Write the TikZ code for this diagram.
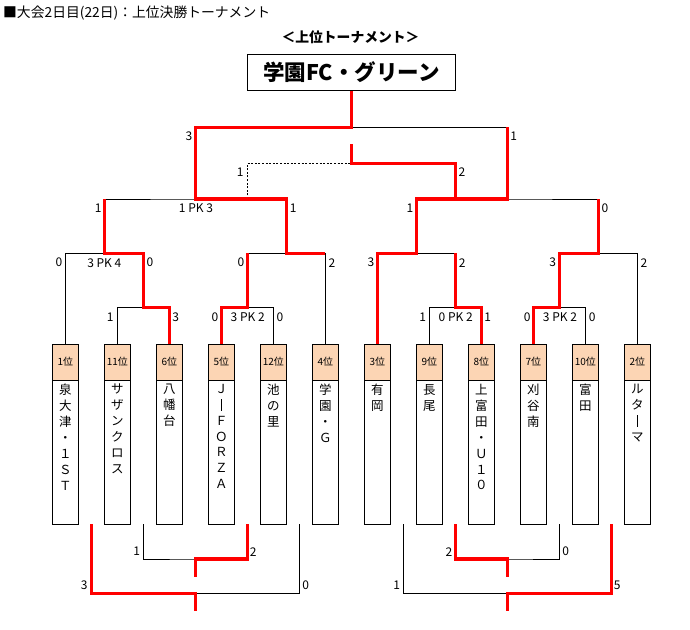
\documentclass[tikz,border=0pt]{standalone}
\usepackage{fontspec}
\newfontfamily\jp{Noto Sans CJK JP}
\setmainfont{Noto Sans CJK JP}
\definecolor{peach}{HTML}{FCD5B4}
\definecolor{winred}{HTML}{FF0000}
\newcommand{\vbar}{\raisebox{-1.5pt}{\rule{0.9pt}{12pt}}}
\tikzset{
  line/.style={draw=black,line width=1pt},
  win/.style={draw=winred,line width=3.2pt},
  thirdline/.style={draw=black,line width=1pt,dash pattern=on 2pt off 1.6pt},
  team/.style={draw=black,line width=1pt,fill=white,minimum width=26pt,minimum height=179.7pt,inner sep=0pt,outer sep=0pt},
  hdr/.style={draw=black,line width=1pt,fill=peach,minimum width=26pt,minimum height=35.7pt,inner sep=0pt,outer sep=0pt,anchor=north,font=\jp\fontsize{10}{12}\selectfont},
  nm/.style={anchor=north,inner sep=0pt,align=center,font=\jp\fontsize{12.5}{15.9}\selectfont},
  sc/.style={inner sep=0pt,font=\jp\fontsize{12}{14}\selectfont},
}
\begin{document}
\begin{tikzpicture}[x=1pt,y=-1pt]
\useasboundingbox[fill=white] (0,0) rectangle (690,629);
% titles
\node[anchor=west,inner sep=0pt,font=\jp\fontsize{13.8}{15}\selectfont] (title) at (3,12.7) {■大会2日目(22日)：上位決勝トーナメント};
\node[inner sep=0pt,font=\jp\bfseries\fontsize{13.8}{15}\selectfont] (sub) at (350.5,37) {＜上位トーナメント＞};
\node[draw=black,line width=1pt,minimum width=208pt,minimum height=36pt,inner sep=0pt,font=\jp\bfseries\fontsize{21.5}{24}\selectfont] (champ) at (351.3,72.3) {\raisebox{-2pt}{学園FC・グリーン}};
% team boxes
\foreach \i/\x/\h/\n in {
 1/65.3/1位/{泉\\大\\津\\・\\１\\Ｓ\\Ｔ},
 2/117.3/11位/{サ\\ザ\\ン\\ク\\ロ\\ス},
 3/169.3/6位/{八\\幡\\台},
 4/221.3/5位/{Ｊ\\\vbar\\Ｆ\\Ｏ\\Ｒ\\Ｚ\\Ａ},
 5/273.3/12位/{池\\の\\里},
 6/325.3/4位/{学\\園\\・\\Ｇ},
 7/377.3/3位/{有\\岡},
 8/429.3/9位/{長\\尾},
 9/481.3/8位/{上\\富\\田\\・\\Ｕ\\１\\０},
 10/533.3/7位/{刈\\谷\\南},
 11/585.3/10位/{富\\田},
 12/637.3/2位/{ル\\タ\\\vbar\\マ}}{
  \node[team] (t\i) at (\x,434.15) {};
  \node[hdr] (h\i) at (t\i.north) {\h};
  \node[nm] (n\i) at ([yshift=-39.7pt]t\i.north) {\n};
}
% junctions
\coordinate (m1) at (143.3,307.3);
\coordinate (m2) at (247.3,307.3);
\coordinate (m3) at (455.3,307.3);
\coordinate (m4) at (559.3,307.3);
\coordinate (q1) at (104.3,253.3);
\coordinate (q2) at (286.3,253.3);
\coordinate (q3) at (416.3,253.3);
\coordinate (q4) at (598.3,253.3);
\coordinate (s1) at (195.3,199);
\coordinate (s2) at (507.3,199);
\coordinate (f) at (351.3,127.3);
\coordinate (th) at (351.3,163.3);
\coordinate (thtop) at (351.3,144);
% bottom
\coordinate (g1) at (91.3,524);
\coordinate (g2) at (143.3,524);
\coordinate (g4) at (247.3,524);
\coordinate (g5) at (299.3,524);
\coordinate (g7) at (403.3,524);
\coordinate (g8) at (455.3,524);
\coordinate (g10) at (559.3,524);
\coordinate (g11) at (611.3,524);
\coordinate (b1) at (195.3,559);
\coordinate (b2) at (195.3,593.3);
\coordinate (b3) at (507.3,559);
\coordinate (b4) at (507.3,593.3);
\coordinate (b1e) at (195.3,577);
\coordinate (b2e) at (195.3,611);
\coordinate (b3e) at (507.3,577);
\coordinate (b4e) at (507.3,611);
% black bracket
\draw[line] (t2.north) |- (m1) -| (t3.north);
\draw[line] (t4.north) |- (m2) -| (t5.north);
\draw[line] (t8.north) |- (m3) -| (t9.north);
\draw[line] (t10.north) |- (m4) -| (t11.north);
\draw[line] (t1.north) |- (q1) -| (m1);
\draw[line] (m2) |- (q2) -| (t6.north);
\draw[line] (t7.north) |- (q3) -| (m3);
\draw[line] (m4) |- (q4) -| (t12.north);
\draw[line] (q1) |- (s1) -| (q2);
\draw[line] (q3) |- (s2) -| (q4);
\draw[line] (s1) |- (f) -| (s2);
\draw[line] (f) -- (champ.south);
\draw[thirdline] (m2 |- s1) |- (th);
\draw[line] (g2) |- (b1) -| (g4);
\draw[line] (g1) |- (b2) -| (g5);
\draw[line] (g8) |- (b3) -| (g10);
\draw[line] (g7) |- (b4) -| (g11);
% red winner lines
\draw[win] (t3.north) |- (m1) |- (q1) -- (q1 |- s1);
\draw[win] (t4.north) |- (m2) -- (m2 |- q2);
\draw[win] (t6.north |- q2) -- (q2) |- (s1) |- (f) -- (champ.south);
\draw[win] (t7.north) |- (q3) |- (s2) -- (s2 |- f);
\draw[win] (t9.north) |- (m3) -- (m3 |- q3);
\draw[win] (t10.north) |- (m4) |- (q4) -- (q4 |- s2);
\draw[win] (m3 |- s2) |- (th) -- (thtop);
\draw[win] (g4) |- (b1) -- (b1e);
\draw[win] (g1) |- (b2) -- (b2e);
\draw[win] (g8) |- (b3) -- (b3e);
\draw[win] (g11) |- (b4) -- (b4e);
% scores
\node[sc] (l1) at (189,136.7) {3};
\node[sc] (l2) at (240.3,172.3) {1};
\node[sc] (l3) at (98.3,208.3) {1};
\node[sc] (l4) at (196,208.3) {1 PK 3};
\node[sc] (l5) at (293.3,208.3) {1};
\node[sc] (l6) at (59,262.7) {0};
\node[sc] (l7) at (104.3,262.7) {3 PK 4};
\node[sc] (l8) at (150,262.7) {0};
\node[sc] (l9) at (241,262.7) {0};
\node[sc] (l10) at (332,262.7) {2};
\node[sc] (l11) at (110.3,317.3) {1};
\node[sc] (l12) at (175.7,317.3) {3};
\node[sc] (l13) at (215,317.3) {0};
\node[sc] (l14) at (247.7,317.3) {3 PK 2};
\node[sc] (l15) at (280,317.3) {0};
\node[sc] (r1) at (513.7,136.7) {1};
\node[sc] (r2) at (462,172.3) {2};
\node[sc] (r3) at (410,208.3) {1};
\node[sc] (r4) at (605,208.3) {0};
\node[sc] (r5) at (371,262.7) {3};
\node[sc] (r6) at (462.3,262.7) {2};
\node[sc] (r7) at (552.7,262.7) {3};
\node[sc] (r8) at (644,262.7) {2};
\node[sc] (r9) at (422.7,317.3) {1};
\node[sc] (r10) at (455.7,317.3) {0 PK 2};
\node[sc] (r11) at (487.7,317.3) {1};
\node[sc] (r12) at (527.3,317.3) {0};
\node[sc] (r13) at (560,317.3) {3 PK 2};
\node[sc] (r14) at (592.3,317.3) {0};
\node[sc] (bl1) at (136.7,551.7) {1};
\node[sc] (bl2) at (253.3,551.7) {2};
\node[sc] (bl3) at (84.3,585.7) {3};
\node[sc] (bl4) at (305.7,585.7) {0};
\node[sc] (br1) at (449,551.7) {2};
\node[sc] (br2) at (565.7,551.7) {0};
\node[sc] (br3) at (396.7,585.7) {1};
\node[sc] (br4) at (617.3,585.7) {5};
\end{tikzpicture}
\end{document}
